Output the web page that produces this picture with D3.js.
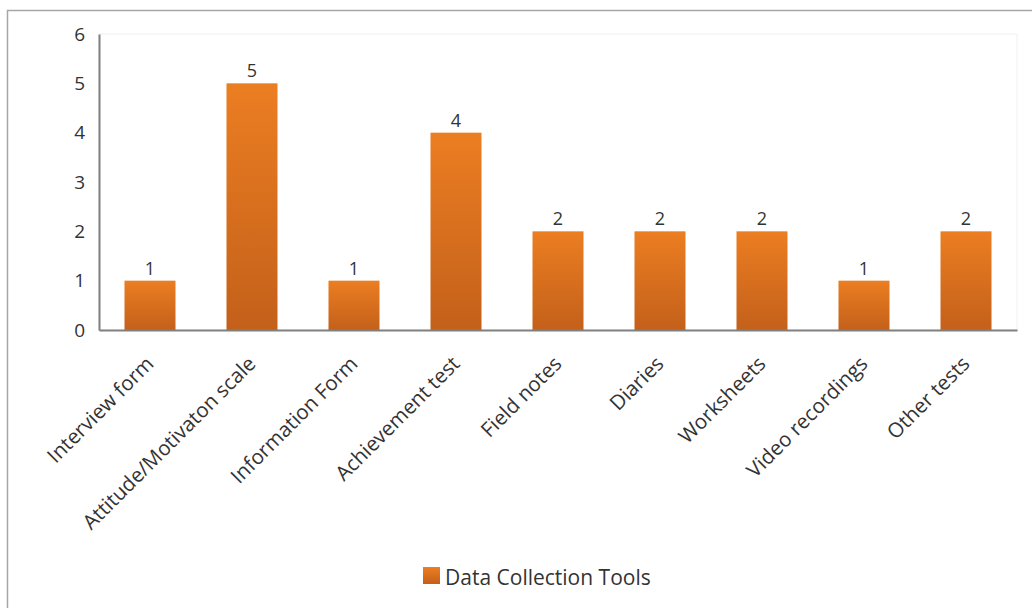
<!DOCTYPE html>
<html><head><meta charset="utf-8">
<script src="https://cdn.jsdelivr.net/npm/d3@7"></script>
<style>body{margin:0;background:#fff}svg{display:block}text{font-family:"Open Sans",sans-serif;fill:#333}</style>
</head><body>
<script>
const categories = ["Interview form","Attitude/Motivaton scale","Information Form","Achievement test","Field notes","Diaries","Worksheets","Video recordings","Other tests"];
const values = [1,5,1,4,2,2,2,1,2];
const yTicks = [0,1,2,3,4,5,6];
const seriesName = "Data Collection Tools";

const W=1032,H=608;
const FONT='"Open Sans",sans-serif';
const svg=d3.select("body").append("svg").attr("width",W).attr("height",H);
const defs=svg.append("defs");
const g1=defs.append("linearGradient").attr("id","barGrad").attr("x1",0).attr("y1",0).attr("x2",0).attr("y2",1);
g1.append("stop").attr("offset","0%").attr("stop-color","#EC7E22");
g1.append("stop").attr("offset","100%").attr("stop-color","#C3601A");

svg.append("path").attr("d",`M7.5,${H} V10.5 H${W}`).attr("fill","none").attr("stroke","#a6a6a6").attr("stroke-width",1.5);

const m={l:99,r:1017,t:34,b:330};
const x=d3.scaleBand().domain(categories).range([m.l,m.r]).paddingInner(0.5).paddingOuter(0.25);
const y=d3.scaleLinear().domain([0,6]).range([m.b,m.t]);

svg.append("rect").attr("x",m.l).attr("y",m.t).attr("width",m.r-m.l).attr("height",m.b-m.t).attr("fill","none").attr("stroke","#f0f0f0");

svg.selectAll("rect.bar").data(values).join("rect").attr("class","bar")
  .attr("x",(d,i)=>x(categories[i])).attr("width",x.bandwidth())
  .attr("y",d=>y(d)).attr("height",d=>y(0)-y(d)).attr("fill","url(#barGrad)");

svg.selectAll("text.val").data(values).join("text").attr("class","val")
  .attr("x",(d,i)=>x(categories[i])+x.bandwidth()/2).attr("y",d=>y(d)-6)
  .attr("text-anchor","middle").attr("font-size",18).style("font-family",FONT).text(d=>d);

const ya=svg.append("g").attr("transform",`translate(${m.l},0)`)
  .call(d3.axisLeft(y).tickValues(yTicks).tickFormat(d3.format("d")).tickSize(0).tickPadding(14));
ya.select(".domain").attr("stroke","#808080").attr("stroke-width",2);
ya.selectAll("text").attr("font-size",19).attr("fill","#333").style("font-family",FONT);

const xa=svg.append("g").attr("transform",`translate(0,${m.b})`).call(d3.axisBottom(x).tickSize(0).tickPadding(0));
xa.select(".domain").attr("stroke","#808080").attr("stroke-width",2);
xa.selectAll("text").attr("font-size",20.5).attr("fill","#333").style("font-family",FONT)
  .attr("text-anchor","end").attr("dy",0).attr("y",0)
  .attr("transform","translate(5,35) rotate(-45)");

const lg=svg.append("g");
lg.append("rect").attr("x",423).attr("y",567).attr("width",17).attr("height",17).attr("fill","url(#barGrad)");
lg.append("text").attr("x",445).attr("y",585).attr("font-size",21).style("font-family",FONT).text(seriesName);
</script>
</body></html>
